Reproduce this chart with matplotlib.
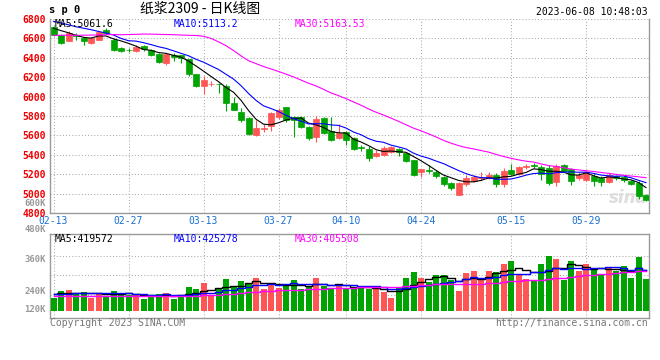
import numpy as np
import matplotlib
matplotlib.use("Agg")
from matplotlib import pyplot as plt

# ---- data (80 trading days, 02-13 .. 06-08) ----
open_ = [6713, 6640, 6578, 6639, 6604, 6553, 6588, 6690, 6580, 6505,
         6482, 6465, 6520, 6485, 6440, 6350, 6425, 6428, 6385, 6230,
         6112, 6125, 6135, 6105, 5930, 5846, 5780, 5600, 5665, 5695,
         5790, 5890, 5790, 5785, 5690, 5580, 5780, 5650, 5570, 5635,
         5570, 5480, 5460, 5390, 5400, 5430, 5455, 5415, 5345, 5220,
         5245, 5225, 5175, 5110, 4990, 5095, 5135, 5165, 5165, 5190,
         5100, 5245, 5205, 5275, 5300, 5275, 5260, 5120, 5295, 5250,
         5160, 5145, 5185, 5160, 5115, 5180, 5175, 5130, 5110, 4985]
close = [6640, 6555, 6655, 6625, 6578, 6604, 6662, 6655, 6478, 6472,
         6478, 6515, 6488, 6430, 6360, 6435, 6410, 6395, 6230, 6112,
         6170, 6135, 6125, 5930, 5867, 5754, 5610, 5675, 5675, 5830,
         5862, 5755, 5760, 5690, 5570, 5770, 5620, 5550, 5625, 5557,
         5455, 5472, 5365, 5415, 5465, 5480, 5430, 5340, 5195, 5250,
         5238, 5178, 5095, 5060, 5110, 5165, 5175, 5172, 5190, 5095,
         5235, 5200, 5278, 5280, 5280, 5200, 5110, 5285, 5237, 5135,
         5190, 5225, 5135, 5115, 5195, 5160, 5145, 5095, 4975, 4935]
high = [6730, 6650, 6680, 6660, 6612, 6612, 6680, 6705, 6600, 6510,
        6500, 6530, 6530, 6490, 6445, 6440, 6450, 6432, 6390, 6235,
        6213, 6160, 6140, 6130, 6000, 5887, 5790, 5760, 5718, 5846,
        5880, 5895, 5795, 5795, 5700, 5795, 5790, 5790, 5715, 5645,
        5585, 5500, 5490, 5445, 5490, 5495, 5465, 5425, 5350, 5255,
        5290, 5240, 5180, 5115, 5115, 5190, 5190, 5220, 5225, 5215,
        5260, 5305, 5285, 5300, 5318, 5290, 5290, 5300, 5300, 5260,
        5218, 5235, 5210, 5185, 5215, 5195, 5195, 5140, 5125, 4995]
low = [6625, 6545, 6570, 6585, 6537, 6545, 6580, 6648, 6470, 6462,
       6455, 6458, 6470, 6420, 6350, 6325, 6370, 6349, 6215, 6100,
       6027, 6105, 6033, 5850, 5860, 5733, 5600, 5595, 5630, 5646,
       5770, 5740, 5580, 5680, 5555, 5535, 5610, 5540, 5560, 5500,
       5445, 5440, 5340, 5380, 5390, 5420, 5390, 5330, 5185, 5175,
       5215, 5165, 5075, 5040, 4985, 5075, 5120, 5140, 5155, 5070,
       5070, 5190, 5195, 5255, 5262, 5143, 5092, 5074, 5225, 5092,
       5140, 5125, 5080, 5075, 5110, 5140, 5120, 5085, 4940, 4925]

ma5 = [6705, 6680, 6658, 6632, 6611, 6603, 6625, 6625, 6595, 6574,
       6549, 6520, 6486, 6477, 6454, 6446, 6425, 6406, 6366, 6316,
       6263, 6208, 6154, 6094, 6045, 5962, 5857, 5767, 5716, 5709,
       5730, 5759, 5776, 5779, 5727, 5709, 5682, 5640, 5627, 5624,
       5561, 5532, 5495, 5453, 5434, 5439, 5431, 5426, 5382, 5339,
       5291, 5240, 5191, 5164, 5136, 5122, 5121, 5136, 5162, 5159,
       5173, 5178, 5200, 5218, 5255, 5248, 5230, 5231, 5222, 5193,
       5191, 5214, 5184, 5160, 5172, 5166, 5150, 5142, 5114, 5062]
ma10 = [6775, 6760, 6740, 6720, 6705, 6690, 6672, 6655, 6635, 6600,
        6576, 6572, 6556, 6536, 6514, 6497, 6472, 6446, 6421, 6385,
        6355, 6317, 6280, 6230, 6181, 6113, 6033, 5961, 5905, 5877,
        5846, 5808, 5772, 5748, 5718, 5720, 5721, 5708, 5703, 5676,
        5635, 5607, 5567, 5540, 5529, 5500, 5481, 5460, 5417, 5387,
        5365, 5336, 5309, 5273, 5238, 5206, 5181, 5164, 5163, 5148,
        5148, 5150, 5168, 5190, 5207, 5211, 5204, 5215, 5220, 5224,
        5220, 5222, 5208, 5191, 5183, 5179, 5182, 5163, 5137, 5113]
ma30 = [6632, 6632, 6633, 6632, 6633, 6634, 6636, 6638, 6640, 6638,
        6640, 6642, 6645, 6644, 6642, 6640, 6638, 6635, 6632, 6630,
        6622, 6600, 6565, 6525, 6475, 6420, 6370, 6340, 6310, 6285,
        6259, 6232, 6203, 6171, 6138, 6110, 6075, 6038, 6010, 5979,
        5945, 5911, 5873, 5839, 5810, 5778, 5745, 5710, 5675, 5647,
        5616, 5584, 5549, 5520, 5495, 5475, 5461, 5444, 5428, 5404,
        5383, 5364, 5348, 5334, 5325, 5306, 5289, 5280, 5267, 5253,
        5244, 5236, 5228, 5218, 5209, 5198, 5189, 5181, 5173, 5164]

# volume in thousands
vol_k = [136, 208, 215, 174, 198, 136, 188, 154, 208, 188,
         164, 164, 123, 164, 174, 188, 123, 147, 249, 226,
         290, 164, 226, 328, 256, 308, 290, 341, 226, 290,
         239, 259, 318, 226, 259, 341, 259, 226, 277, 222,
         243, 243, 226, 226, 192, 136, 243, 341, 403, 341,
         300, 369, 369, 318, 205, 393, 410, 318, 410, 403,
         482, 513, 379, 328, 311, 482, 567, 533, 318, 513,
         413, 482, 427, 369, 454, 410, 461, 341, 557, 328]
vma5_k = [175, 180, 185, 185, 186, 186, 182, 170, 177, 175,
          180, 176, 169, 161, 158, 163, 154, 159, 176, 187,
          207, 215, 231, 247, 253, 256, 282, 305, 284, 291,
          277, 271, 266, 266, 260, 281, 281, 262, 272, 265,
          245, 242, 242, 232, 226, 205, 205, 228, 263, 293,
          326, 351, 356, 339, 312, 331, 339, 329, 347, 387,
          405, 425, 437, 421, 403, 403, 413, 444, 442, 483,
          469, 452, 431, 441, 429, 428, 424, 407, 445, 419.6]
vma10_k = [176, 177, 178, 180, 181, 182, 181, 180, 180, 180.5,
           183, 179, 170, 169, 166, 172, 165, 164, 168, 172,
           185, 185, 195, 212, 220, 232, 248, 268, 266, 272,
           267, 276, 286, 275, 276, 279, 276, 264, 269, 263,
           263, 261, 252, 252, 246, 225, 223, 235, 248, 259,
           265, 278, 292, 301, 303, 328, 345, 343, 343, 350,
           368, 382, 383, 384, 395, 404, 419, 441, 432, 443,
           436, 433, 437, 442, 456, 449, 438, 419, 443, 425.3]
vma30_k = [150, 150, 151, 152, 153, 154, 155, 156, 157, 158,
           158, 158, 157, 156, 155, 155, 154, 154, 155, 156,
           160, 164, 168, 173, 178, 184, 190, 197, 203, 208,
           212, 213, 217, 219, 221, 227, 230, 232, 234, 236,
           238, 241, 244, 246, 247, 245, 249, 256, 261, 265,
           265, 272, 277, 276, 275, 277, 281, 281, 287, 291,
           299, 307, 309, 313, 314, 319, 329, 339, 341, 351,
           356, 364, 371, 376, 384, 394, 401, 401, 406, 405.5]

tick_idx = [0, 10, 20, 30, 39, 49, 61, 71]
tick_labels = ["02-13", "02-27", "03-13", "03-27", "04-10", "04-24", "05-15", "05-29"]
price_ticks = list(range(4800, 6801, 200))
vol_labels = ["600K", "480K", "360K", "240K", "120K"]

RED = "#ff5555"
GREEN = "#00a400"
GRID = "#aaaaaa"
SPINE = "#999999"
MONO = "DejaVu Sans Mono"

W, H = 660, 360
def fx(x):
    return x / W
def fy(y):
    return 1 - y / H

fig = plt.figure(figsize=(W / 100, H / 100), dpi=100)
ax = fig.add_axes([fx(50), fy(213), 599 / W, 194 / H])
axv = fig.add_axes([fx(50), fy(318), 599 / W, 84 / H])

o = np.array(open_)
c = np.array(close)
x = np.arange(len(c))
up = c >= o
cols = np.where(up, RED, GREEN)
xlim = (-3.5 / 7.5, -3.5 / 7.5 + 599 / 7.5)

# ---- price panel ----
ax.vlines(x, low, high, colors=cols, linewidth=0.8, zorder=3)
ax.bar(x, np.abs(c - o), bottom=np.minimum(o, c), width=0.8, color=cols,
       edgecolor=cols, linewidth=0.5, zorder=4)
ax.plot(x, ma5, color="black", lw=0.8, zorder=5)
ax.plot(x, ma10, color="#0000ff", lw=0.8, zorder=5)
ax.plot(x, ma30, color="#ff00ff", lw=0.8, zorder=5)

ax.set_xlim(*xlim)
ax.set_ylim(4800, 6800)
ax.set_yticks(price_ticks)
ax.set_yticklabels([str(p) for p in price_ticks], family=MONO, fontsize=7,
                   fontweight="bold", color="#ee0000")
ax.set_xticks(tick_idx)
ax.set_xticklabels(tick_labels, family=MONO, fontsize=7, color="#1a70d0")
ax.tick_params(axis="both", length=0)
ax.tick_params(axis="y", pad=3)
ax.tick_params(axis="x", pad=2.5)
ax.grid(True, color=GRID, linestyle=(0, (1, 2)), linewidth=0.75)
ax.set_axisbelow(True)
ax.spines["top"].set_visible(False)
for s in ["left", "bottom", "right"]:
    ax.spines[s].set_color(SPINE)
    ax.spines[s].set_linewidth(1.0)

# faint watermark
ax.text(0.997, 0.03, "sina", transform=ax.transAxes, ha="right", va="bottom",
        fontsize=12, fontstyle="italic", fontweight="bold", color="#dddddd",
        zorder=1)

# ---- volume panel ----
vol = np.array(vol_k) * 1000
axv.bar(x, vol, width=0.8, color=cols, linewidth=0, zorder=3)
axv.plot(x, np.array(vma5_k) * 1000, color="black", lw=1.0, drawstyle="steps-mid", zorder=4)
axv.plot(x, np.array(vma10_k) * 1000, color="#0000ff", lw=1.0, drawstyle="steps-mid", zorder=4)
axv.plot(x, np.array(vma30_k) * 1000, color="#ff00ff", lw=1.0, drawstyle="steps-mid", zorder=4)
axv.set_xlim(*xlim)
axv.set_ylim(-71750, 789250)
axv.set_xticks(tick_idx)
axv.set_xticklabels([])
axv.set_yticks([164000, 366000, 564000])
axv.set_yticklabels([])
axv.tick_params(axis="both", length=0)
axv.grid(True, color=GRID, linestyle=(0, (1, 2)), linewidth=0.75)
axv.set_axisbelow(True)
for s in axv.spines.values():
    s.set_color(SPINE)
    s.set_linewidth(1.0)

# volume scale labels (drawn where the source places them)
for lab, ypx in zip(vol_labels, [203, 230, 260, 291, 310]):
    fig.text(fx(46), fy(ypx), lab, ha="right", va="center", family=MONO,
             fontsize=6.4, fontweight="bold", color="#999999")

# ---- header texts ----
fig.text(fx(49), fy(10), "s p 0", ha="left", va="center", family=MONO,
         fontsize=7.5, fontweight="bold", color="black")
fig.text(fx(200), fy(9), "纸浆2309 - 日K线图", ha="center", va="center",
         family=["Noto Sans CJK SC", "DejaVu Sans"], fontsize=10, color="black")
fig.text(fx(648), fy(12), "2023-06-08 10:48:03", ha="right", va="center",
         family=MONO, fontsize=7, color="black")

fig.text(fx(55), fy(24), "MA5:5061.6", ha="left", va="center", family=MONO,
         fontsize=7, color="black")
fig.text(fx(174), fy(24), "MA10:5113.2", ha="left", va="center", family=MONO,
         fontsize=7, color="#0000ff")
fig.text(fx(295), fy(24), "MA30:5163.53", ha="left", va="center", family=MONO,
         fontsize=7, color="#ff00ff")

fig.text(fx(55), fy(239), "MA5:419572", ha="left", va="center", family=MONO,
         fontsize=7, color="black")
fig.text(fx(174), fy(239), "MA10:425278", ha="left", va="center", family=MONO,
         fontsize=7, color="#0000ff")
fig.text(fx(295), fy(239), "MA30:405508", ha="left", va="center", family=MONO,
         fontsize=7, color="#ff00ff")

fig.text(fx(50), fy(323), "Copyright 2023 SINA.COM", ha="left", va="center",
         family=MONO, fontsize=7, color="#777777")
fig.text(fx(648), fy(323), "http://finance.sina.com.cn", ha="right", va="center",
         family=MONO, fontsize=7, color="#777777")

fig.savefig("out.png", dpi=100)
